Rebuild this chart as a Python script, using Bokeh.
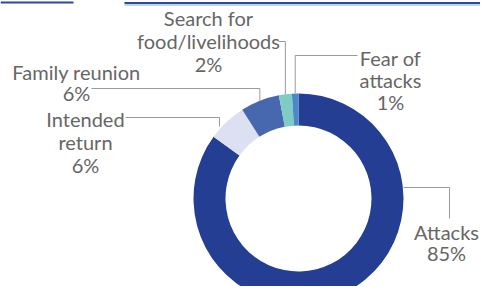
import math
from bokeh.plotting import figure
from bokeh.models import ColumnDataSource, Range1d
from bokeh.core.properties import value
from bokeh.embed import file_html
from bokeh.resources import INLINE

# ---- data ----
categories = ["Attacks", "Intended return", "Family reunion", "Search for food/livelihoods", "Fear of attacks"]
shares = [85, 6, 6, 2, 1]
label_lines = [["Attacks", "85%"], ["Intended", "return", "6%"], ["Family reunion", "6%"],
               ["Search for", "food/livelihoods", "2%"], ["Fear of", "attacks", "1%"]]
colors = ["#233E93", "#DCE0F2", "#4767AF", "#80CBC3", "#4A88C9"]

W, H = 480, 286
def PX(x): return x
def PY(y): return H - y

p = figure(width=W, height=H, output_backend="svg", toolbar_location=None,
           x_range=Range1d(0, W), y_range=Range1d(0, H), min_border=0)
p.axis.visible = False
p.grid.visible = False
p.outline_line_color = None
p.background_fill_color = "white"

# decorative rules at the top (cropped header of the source page)
p.line([PX(0), PX(73)], [PY(2), PY(2)], line_color="#2B4A9E", line_width=2)
p.line([PX(124), PX(480)], [PY(2.5), PY(2.5)], line_color="#2B4A9E", line_width=2)
p.line([PX(124), PX(480)], [PY(4.5), PY(4.5)], line_color="#8FA0CF", line_width=1)

cx, cy = PX(298), PY(198)
R_out, R_in = 105, 73

total = sum(shares)
starts, ends, mids = [], [], []
cum = 0.0
for s in shares:
    a0 = math.pi / 2 - 2 * math.pi * cum / total
    cum += s
    a1 = math.pi / 2 - 2 * math.pi * cum / total
    starts.append(a0); ends.append(a1); mids.append((a0 + a1) / 2)

src = ColumnDataSource(dict(start=starts, end=ends, color=colors, cat=categories))
p.annular_wedge(x=cx, y=cy, inner_radius=R_in, outer_radius=R_out, start_angle="start",
                end_angle="end", direction="clock", fill_color="color", line_color=None,
                source=src)

def ring_pt(i):
    a = mids[i]
    return cx + R_out * math.cos(a), cy + R_out * math.sin(a)

lc = "#9a9a9a"
# Attacks
p.line([PX(403), PX(449), PX(449)], [PY(187), PY(187), PY(218)], line_color=lc, line_width=1)
# Intended return
p.line([PX(125), PX(219), PX(219)], [PY(117), PY(117), PY(126)], line_color=lc, line_width=1)
# Family reunion
fx, fy = ring_pt(2)
p.line([PX(91), fx, fx], [PY(88), PY(88), fy], line_color=lc, line_width=1)
# Search
sx, sy = ring_pt(3)
p.line([PX(278), sx, sx], [PY(41), PY(41), sy], line_color=lc, line_width=1)
# Fear
ex, ey = ring_pt(4)
p.line([ex, ex, PX(357)], [ey, PY(55), PY(55)], line_color=lc, line_width=1)

# labels (centre x, first-line centre y, line step) in reference px
anchors = [(446, 231, 21), (85, 118, 23), (76, 71, 21), (208, 17, 23), (390, 57, 22)]
xs, ys, ts = [], [], []
for lines, (ax, ay, step) in zip(label_lines, anchors):
    for k, t in enumerate(lines):
        xs.append(PX(ax)); ys.append(PY(ay + k * step)); ts.append(t)
p.text(x=xs, y=ys, text=ts, text_align="center", text_baseline="middle",
       text_font=value("Lato"), text_font_size="20px", text_color="#666666")

open("out.html", "w").write(file_html(p, INLINE))
